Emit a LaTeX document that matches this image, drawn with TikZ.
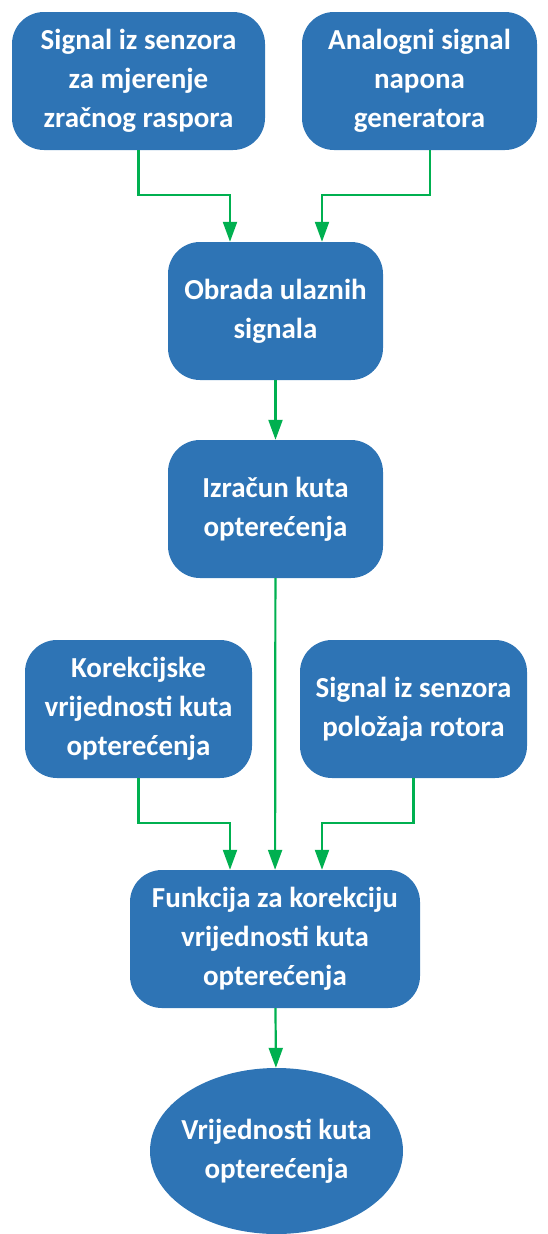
\documentclass[tikz,border=0pt]{standalone}
\usepackage{fontspec}
\setmainfont{Carlito}
\usepackage{xcolor}
\usepackage{tikz}
\usetikzlibrary{arrows.meta,calc,shapes.geometric}
\definecolor{BoxBlue}{HTML}{2E74B5}
\definecolor{FlowGreen}{HTML}{00B050}

\begin{document}
\begin{tikzpicture}[
  x=1pt,y=-1pt,
  block/.style={rounded corners=32pt,fill=BoxBlue,inner sep=0pt,minimum height=138pt,align=center,
    text=white,font=\bfseries\fontsize{29}{39}\selectfont},
  term/.style={ellipse,fill=BoxBlue,inner xsep=-7pt,inner ysep=0pt,minimum width=253pt,minimum height=166pt,align=center,
    text=white,font=\bfseries\fontsize{29}{39}\selectfont},
  flow/.style={draw=FlowGreen,line width=2.2pt,-{Triangle[length=20pt,width=14pt]}}
]
\useasboundingbox (0,0) rectangle (547,1234);
% inputs
\node[block,minimum width=253pt] (zracni) at (138.5,81) {Signal iz senzora\\za mjerenje\\zračnog raspora};
\node[block,minimum width=235pt] (napon) at (419.5,81) {Analogni signal\\napona\\generatora};
% processing
\node[block,minimum width=215pt] (obrada) at (275.5,311) {Obrada ulaznih\\signala};
\node[block,minimum width=215pt] (izracun) at (275.5,509) {Izračun kuta\\opterećenja};
\node[block,minimum width=227pt] (korekcija) at (138.5,709) {Korekcijske\\vrijednosti kuta\\opterećenja};
\node[block,minimum width=227pt] (rotor) at (413.5,709) {Signal iz senzora\\položaja rotora};
\node[block,minimum width=290pt] (funkcija) at (275,939) {Funkcija za korekciju\\vrijednosti kuta\\opterećenja};
\node[term] (izlaz) at (276.5,1151) {Vrijednosti kuta\\opterećenja};

\draw[flow] (zracni.south) -- ++(0,45) -| ([xshift=-45.5pt]obrada.north);
\draw[flow] ([xshift=10.5pt]napon.south) -- ++(0,45) -| ([xshift=46.5pt]obrada.north);
\draw[flow] (obrada) -- (izracun);
\draw[flow] (izracun) -- (funkcija);
\draw[flow] (korekcija.south) -- ++(0,45) -| ([xshift=-45pt]funkcija.north);
\draw[flow] (rotor.south) -- ++(0,45) -| ([xshift=47pt]funkcija.north);
\draw[flow] (funkcija) -- (izlaz);
\end{tikzpicture}
\end{document}
